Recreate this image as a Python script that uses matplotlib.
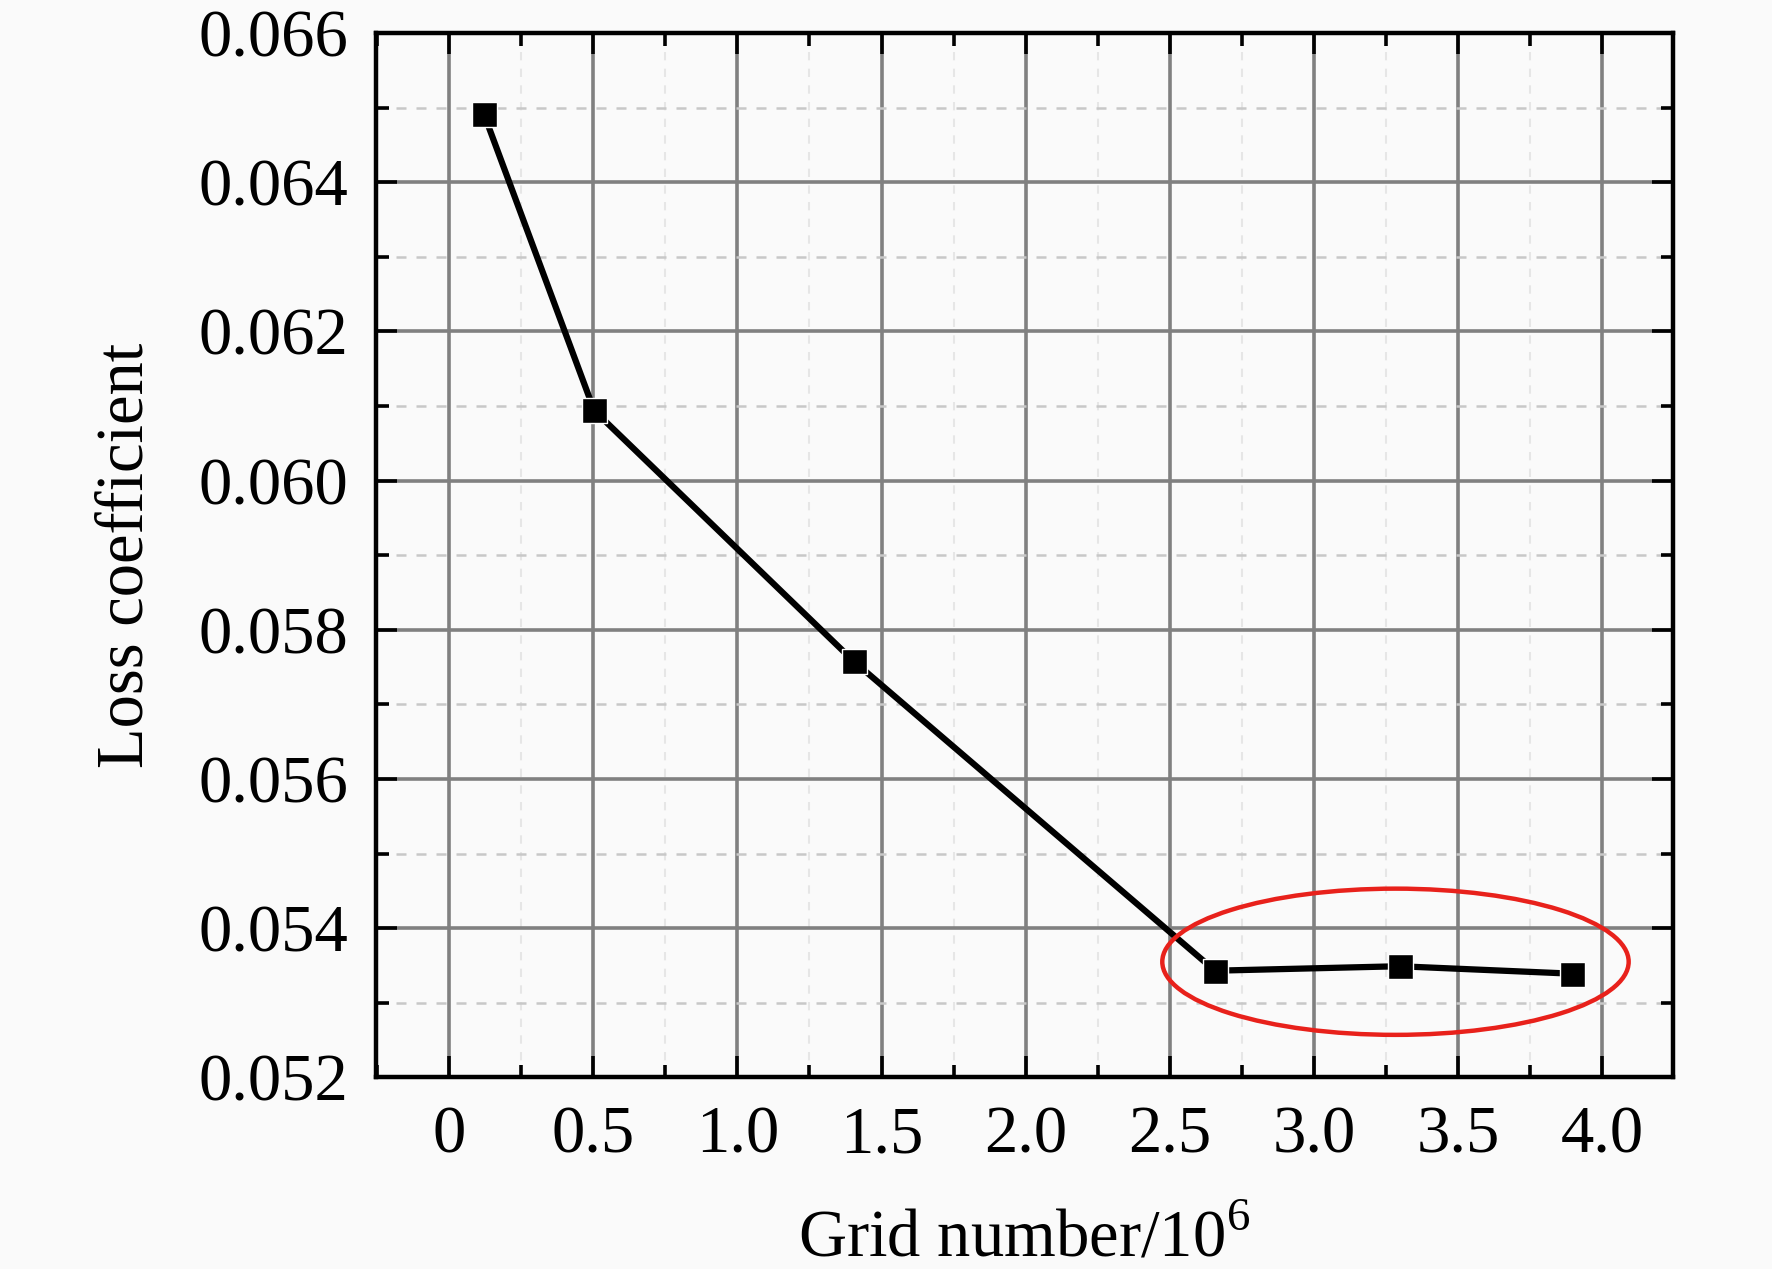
import matplotlib
matplotlib.use('Agg')
import matplotlib.pyplot as plt
from matplotlib.patches import Ellipse
from matplotlib.ticker import MultipleLocator, FixedFormatter, FixedLocator

# values
grid_number = [0.12, 0.503, 1.403, 2.657, 3.297, 3.896]
loss_coef = [0.06492, 0.06094, 0.05758, 0.05343, 0.05349, 0.05339]

x_ticks = [0, 0.5, 1.0, 1.5, 2.0, 2.5, 3.0, 3.5, 4.0]
x_labels = ['0', '0.5', '1.0', '1.5', '2.0', '2.5', '3.0', '3.5', '4.0']
y_ticks = [0.052, 0.054, 0.056, 0.058, 0.060, 0.062, 0.064, 0.066]
y_labels = ['%.3f' % v for v in y_ticks]

plt.rcParams['font.family'] = ['Liberation Serif', 'DejaVu Serif']
plt.rcParams['mathtext.fontset'] = 'custom'
plt.rcParams['mathtext.rm'] = 'Liberation Serif'

fig = plt.figure(figsize=(17.72, 12.69), dpi=100, facecolor='#fafafa')
ax = fig.add_axes([0.212, 0.151, 0.732, 0.823])
ax.set_facecolor('#fafafa')

ax.set_xlim(-0.255, 4.245)
ax.set_ylim(0.052, 0.066)

ax.xaxis.set_major_locator(FixedLocator(x_ticks))
ax.xaxis.set_major_formatter(FixedFormatter(x_labels))
ax.xaxis.set_minor_locator(MultipleLocator(0.25))
ax.yaxis.set_major_locator(FixedLocator(y_ticks))
ax.yaxis.set_major_formatter(FixedFormatter(y_labels))
ax.yaxis.set_minor_locator(MultipleLocator(0.001))

ax.grid(which='major', color='#808080', linewidth=2.6, linestyle='-')
ax.yaxis.grid(which='minor', color='#c8c8c8', linewidth=1.8, linestyle=(0, (4, 4)))
ax.xaxis.grid(which='minor', color='#e6e6e6', linewidth=1.5, linestyle=(0, (4, 4)))
ax.set_axisbelow(True)

ax.tick_params(which='both', direction='in', top=True, right=True,
               width=2.6, labelsize=48, pad=20)
ax.tick_params(which='major', length=15)
ax.tick_params(which='minor', length=9)
for s in ax.spines.values():
    s.set_linewidth(3.2)

ax.plot(grid_number, loss_coef, color='black', linewidth=4.5,
        marker='s', markersize=18, markerfacecolor='black',
        markeredgecolor='white', markeredgewidth=1.0, zorder=5)

ell = Ellipse((3.283, 0.05355), 1.618, 0.00196, fill=False,
              edgecolor='#e8211b', linewidth=3.2, zorder=6)
ax.add_patch(ell)

ax.set_xlabel('Grid number/10$^{\\mathregular{6}}$', fontsize=48, labelpad=30)
ax.set_ylabel('Loss coefficient', fontsize=48, labelpad=30)

fig.savefig('out.png', dpi=100, facecolor=fig.get_facecolor())
